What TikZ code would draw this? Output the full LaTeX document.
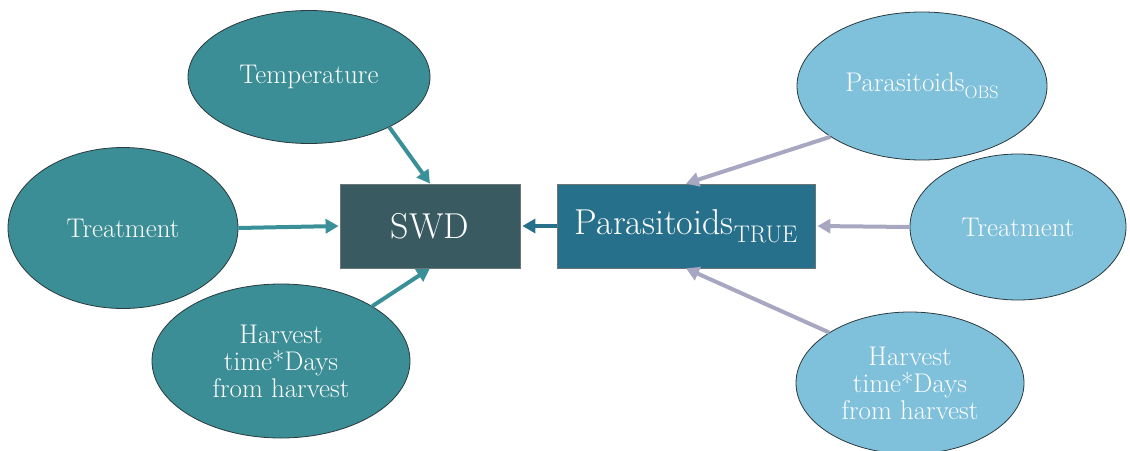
\documentclass[tikz,border=0pt]{standalone}
\usetikzlibrary{shapes.geometric,arrows.meta}
\definecolor{tealE}{HTML}{3B8D96}
\definecolor{tealA}{HTML}{3A9099}
\definecolor{swdC}{HTML}{3A5A62}
\definecolor{trueC}{HTML}{26708B}
\definecolor{lightE}{HTML}{7FC0DB}
\definecolor{grayA}{HTML}{A8A7C2}
\definecolor{edgeC}{HTML}{2A3A3E}
\tikzset{
  ell/.style={ellipse, draw=edgeC, line width=0.8pt, inner sep=0pt, text=white, align=center,
    font=\fontsize{27}{27}\selectfont},
  lell/.style={ell, fill=tealE},
  rell/.style={ell, fill=lightE},
  bigbox/.style={rectangle, draw=edgeC!70, line width=0.8pt, text=white, inner sep=0pt,
    minimum height=84pt, font=\fontsize{36}{40}\selectfont},
  arr/.style={line width=4pt, -{Triangle[length=13pt,width=14pt]}},
  tarr/.style={arr, draw=tealA, fill=tealA},
  barr/.style={arr, draw=trueC},
  garr/.style={arr, draw=grayA},
}
\begin{document}
\begin{tikzpicture}[x=1pt,y=-1pt]
\useasboundingbox (0,0) rectangle (1130,450);
\node[bigbox, fill=swdC, minimum width=180pt] (swd) at (430,226) {SWD};
\node[bigbox, fill=trueC, minimum width=258pt] (true) at (686,226) {Parasitoids\raisebox{-0.22em}{\fontsize{24}{24}\selectfont TRUE}};
\node[lell, minimum width=242pt, minimum height=133pt] (temp) at (309,77) {Temperature};
\node[lell, minimum width=230pt, minimum height=161pt] (treatL) at (123,228) {Treatment};
\node[lell, minimum width=258pt, minimum height=154pt] (harvL) at (281,361) {Harvest\\time*Days\\from harvest};
\node[rell, minimum width=250pt, minimum height=148pt] (obs) at (922,86) {Parasitoids\raisebox{-0.25em}{\fontsize{18}{18}\selectfont OBS}};
\node[rell, minimum width=216pt, minimum height=146pt] (treatR) at (1018,227) {Treatment};
\node[rell, minimum width=228pt, minimum height=142pt] (harvR) at (910,383) {Harvest\\time*Days\\from harvest};
\draw[tarr] (temp.-32) -- (swd.north);
\draw[tarr] (treatL.east) -- ([xshift=-1pt]swd.west);
\draw[tarr] (harvL.31) -- (swd.south);
\draw[barr] (true.west) -- ([xshift=2pt]swd.east);
\draw[garr] (obs.-151) -- (true.north);
\draw[garr] (treatR.west) -- ([xshift=2pt]true.east);
\draw[garr] (harvR.148) -- (true.south);
\end{tikzpicture}
\end{document}
